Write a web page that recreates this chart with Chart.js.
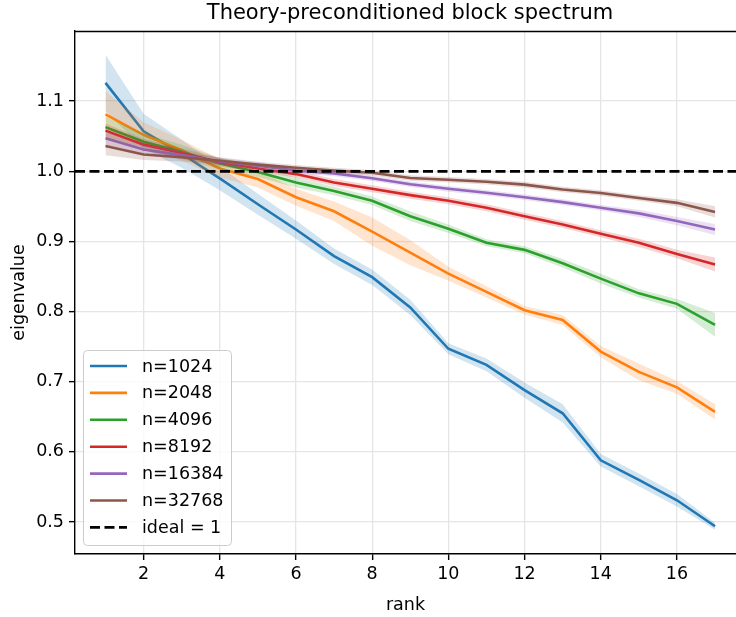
<!DOCTYPE html>
<html>
<head>
<meta charset="utf-8">
<script src="https://cdn.jsdelivr.net/npm/chart.js@4.4.1/dist/chart.umd.min.js"></script>
<style>
html,body{margin:0;padding:0;background:#fff;}
canvas{display:block;}
</style>
</head>
<body>
<canvas id="c" width="736" height="617"></canvas>
<script>
// ---- data ----
const ranks = [1,2,3,4,5,6,7,8,9,10,11,12,13,14,15,16,17];
const seriesLabels = ["n=1024","n=2048","n=4096","n=8192","n=16384","n=32768"];
const n1024  = [1.126,1.057,1.025,0.990,0.953,0.917,0.879,0.849,0.806,0.747,0.724,0.688,0.655,0.588,0.560,0.531,0.494];
const n2048  = [1.081,1.052,1.030,1.004,0.989,0.963,0.943,0.914,0.884,0.854,0.828,0.802,0.788,0.743,0.714,0.692,0.657];
const n4096  = [1.063,1.042,1.028,1.011,0.999,0.984,0.972,0.958,0.936,0.918,0.898,0.888,0.869,0.847,0.826,0.811,0.781];
const n8192  = [1.058,1.038,1.026,1.013,1.004,0.996,0.984,0.975,0.966,0.958,0.948,0.936,0.924,0.911,0.898,0.882,0.867];
const n16384 = [1.047,1.031,1.023,1.014,1.008,1.001,0.997,0.990,0.9815,0.975,0.9695,0.963,0.956,0.948,0.940,0.929,0.917];
const n32768 = [1.036,1.024,1.020,1.015,1.0095,1.005,1.001,0.998,0.9905,0.988,0.985,0.981,0.974,0.969,0.962,0.955,0.942];
// half-width of the shaded band
const s1024  = [0.040,0.025,0.020,0.017,0.015,0.013,0.011,0.011,0.011,0.008,0.009,0.011,0.013,0.009,0.009,0.009,0.005];
const s2048  = [0.033,0.018,0.015,0.013,0.012,0.012,0.014,0.020,0.018,0.010,0.008,0.006,0.007,0.008,0.012,0.009,0.011];
const s4096  = [0.015,0.012,0.010,0.008,0.007,0.007,0.006,0.006,0.007,0.006,0.005,0.005,0.006,0.007,0.006,0.007,0.017];
const s8192  = [0.010,0.008,0.007,0.006,0.005,0.005,0.005,0.005,0.005,0.005,0.005,0.005,0.005,0.005,0.006,0.006,0.010];
const s16384 = [0.010,0.008,0.006,0.005,0.005,0.004,0.004,0.004,0.004,0.004,0.004,0.004,0.004,0.004,0.005,0.006,0.008];
const s32768 = [0.013,0.008,0.006,0.005,0.004,0.004,0.004,0.004,0.004,0.004,0.004,0.004,0.004,0.004,0.004,0.005,0.008];
const idealValue = 1;
const idealLabel = "ideal = 1";
const xTicks = [2,4,6,8,10,12,14,16];
const yTicks = [0.5,0.6,0.7,0.8,0.9,1.0,1.1];

// ---- styling ----
const colors = ["#1f77b4","#ff7f0e","#2ca02c","#d62728","#9467bd","#8c564b"];
const bandColors = ["rgba(31,119,180,0.2)","rgba(255,127,14,0.2)","rgba(44,160,44,0.2)","rgba(214,39,40,0.2)","rgba(148,103,189,0.2)","rgba(140,86,75,0.2)"];
const FONT = "DejaVu Sans";
const X_MIN = 0.2, X_MAX = 17.55, Y_MIN = 0.4544, Y_MAX = 1.2;

const means = [n1024,n2048,n4096,n8192,n16384,n32768];
const spreads = [s1024,s2048,s4096,s8192,s16384,s32768];

const datasets = [];
means.forEach((m, i) => {
  const s = spreads[i];
  const base = 20 - 3*i;
  const lowIdx = datasets.length;
  datasets.push({
    label: seriesLabels[i] + " low",
    data: ranks.map((r,k)=>({x:r, y:m[k]-s[k]})),
    borderWidth: 0, pointRadius: 0, fill: false, order: base, borderColor: 'rgba(0,0,0,0)'
  });
  datasets.push({
    label: seriesLabels[i] + " high",
    data: ranks.map((r,k)=>({x:r, y:m[k]+s[k]})),
    borderWidth: 0, pointRadius: 0, fill: lowIdx, backgroundColor: bandColors[i],
    order: base, borderColor: 'rgba(0,0,0,0)'
  });
  datasets.push({
    label: seriesLabels[i],
    data: ranks.map((r,k)=>({x:r, y:m[k]})),
    borderColor: colors[i], borderWidth: 2.6, pointRadius: 0, fill: false,
    order: base - 1, tension: 0
  });
});
datasets.push({
  label: idealLabel,
  data: [{x:X_MIN, y:idealValue},{x:X_MAX, y:idealValue}],
  borderColor: "#000", borderWidth: 2.8, borderDash: [10,4.5], pointRadius: 0, fill: false, order: 0
});

const decorPlugin = {
  id: 'decor',
  afterDraw(chart) {
    const ctx = chart.ctx, a = chart.chartArea;
    ctx.save();
    // top spine
    ctx.strokeStyle = "#000"; ctx.lineWidth = 1.4;
    ctx.beginPath(); ctx.moveTo(a.left, a.top + 0.5); ctx.lineTo(a.right, a.top + 0.5); ctx.stroke();
    // title
    ctx.fillStyle = "#000";
    ctx.font = "21px '" + FONT + "'";
    ctx.textAlign = "center"; ctx.textBaseline = "middle";
    ctx.fillText("Theory-preconditioned block spectrum", 410, 14);
    // legend
    const bx = 83.5, by = 350.5, bw = 148, bh = 195, r = 4;
    ctx.beginPath();
    ctx.roundRect(bx, by, bw, bh, r);
    ctx.fillStyle = "rgba(255,255,255,0.8)"; ctx.fill();
    ctx.strokeStyle = "#cccccc"; ctx.lineWidth = 1; ctx.stroke();
    const labels = seriesLabels.concat([idealLabel]);
    const cols = colors.concat(["#000"]);
    ctx.font = "17.5px '" + FONT + "'";
    ctx.textAlign = "left"; ctx.textBaseline = "middle";
    labels.forEach((lab, k) => {
      const y = 366 + 26.9 * k;
      ctx.beginPath();
      ctx.strokeStyle = cols[k];
      ctx.lineWidth = k === 6 ? 2.8 : 2.6;
      ctx.setLineDash(k === 6 ? [10,4.5] : []);
      ctx.moveTo(90, y); ctx.lineTo(127, y); ctx.stroke();
      ctx.setLineDash([]);
      ctx.fillStyle = "#000";
      ctx.fillText(lab, 142, y + 1);
    });
    ctx.restore();
  }
};

const tickFont = {family: FONT, size: 17.5};
new Chart(document.getElementById('c'), {
  type: 'line',
  data: { datasets },
  options: {
    responsive: false, animation: false, devicePixelRatio: 1,
    layout: { padding: { top: 31, left: 0, right: 0, bottom: 0 } },
    plugins: { legend: {display: false}, title: {display: false}, tooltip: {enabled: false}, filler: {propagate: false} },
    scales: {
      x: {
        type: 'linear', min: X_MIN, max: X_MAX,
        afterBuildTicks: s => { s.ticks = xTicks.map(v => ({value: v})); },
        ticks: { font: tickFont, color: '#000', padding: 4, maxRotation: 0, autoSkip: false, callback: v => String(v) },
        grid: { color: '#e5e5e5', lineWidth: 1.3, tickLength: 6, tickColor: '#000', tickWidth: 1.4 },
        border: { color: '#000', width: 1.4 },
        title: { display: true, text: 'rank', font: tickFont, color: '#000', padding: {top: 2, bottom: 1} },
        afterFit: s => { s.height = 63; }
      },
      y: {
        type: 'linear', min: Y_MIN, max: Y_MAX,
        afterBuildTicks: s => { s.ticks = yTicks.map(v => ({value: v})); },
        ticks: { font: tickFont, color: '#000', padding: 5, callback: v => v.toFixed(1) },
        grid: { color: '#e5e5e5', lineWidth: 1.3, tickLength: 6, tickColor: '#000', tickWidth: 1.4 },
        border: { color: '#000', width: 1.4 },
        title: { display: true, text: 'eigenvalue', font: tickFont, color: '#000', padding: {top: 9, bottom: 4} },
        afterFit: s => { s.width = 75; }
      }
    }
  },
  plugins: [decorPlugin]
});
</script>
</body>
</html>
